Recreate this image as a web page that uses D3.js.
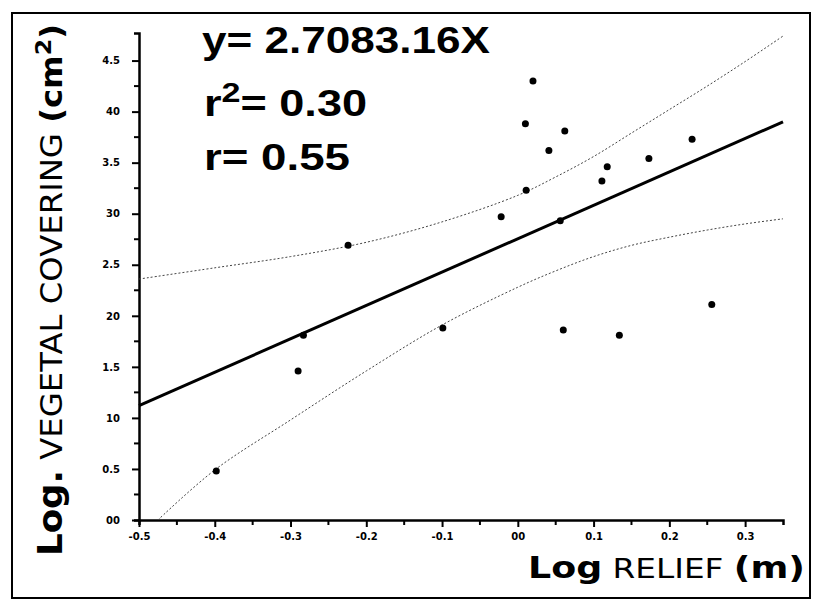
<!DOCTYPE html>
<html>
<head>
<meta charset="utf-8">
<script src="https://cdn.jsdelivr.net/npm/d3@7"></script>
<style>
  body { margin: 0; background: #fff; }
  svg { display: block; }
</style>
</head>
<body>
<div id="chart"></div>
<script>
// points: log relief vs log vegetal covering
const reliefX = [-0.398, -0.290, -0.283, -0.224, -0.099, -0.022, 0.010, 0.011, 0.020, 0.041,
  0.056, 0.060, 0.062, 0.111, 0.118, 0.134, 0.173, 0.230, 0.256];
const coverY = [0.48, 1.46, 1.81, 2.69, 1.88, 2.97, 3.88, 3.23, 4.30, 3.62,
  2.93, 1.86, 3.81, 3.32, 3.46, 1.81, 3.54, 3.73, 2.11];

// regression line end points
const fitX = [-0.5, 0.35];
const fitY = [1.12, 3.90];

// confidence bands (dotted)
const upperX = [-0.5, -0.4, -0.3, -0.2, -0.1, 0, 0.05, 0.1, 0.15, 0.2, 0.25, 0.3, 0.35];
const upperY = [2.36, 2.47, 2.58, 2.72, 2.92, 3.18, 3.36, 3.56, 3.79, 4.02, 4.25, 4.49, 4.74];
const lowerX = [-0.475, -0.4, -0.3, -0.2, -0.1, 0, 0.05, 0.1, 0.15, 0.2, 0.25, 0.3, 0.35];
const lowerY = [0.0, 0.49, 0.98, 1.46, 1.91, 2.28, 2.44, 2.58, 2.69, 2.77, 2.84, 2.90, 2.95];

// tick values and their labels as printed
const xTicks = [-0.5, -0.4, -0.3, -0.2, -0.1, 0, 0.1, 0.2, 0.3];
const xTickLabels = ["-0.5", "-0.4", "-0.3", "-0.2", "-0.1", "00", "0.1", "0.2", "0.3"];
const xMinor = [-0.45, -0.35, -0.25, -0.15, -0.05, 0.05, 0.15, 0.25];
const yTicks = [0, 0.5, 1, 1.5, 2, 2.5, 3, 3.5, 4, 4.5];
const yTickLabels = ["00", "0.5", "10", "1.5", "20", "2.5", "30", "3.5", "40", "4.5"];
const yMinor = [0.25, 0.75, 1.25, 1.75, 2.25, 2.75, 3.25, 3.75, 4.25];

const width = 815, height = 600;

const svg = d3.select("#chart").append("svg")
  .attr("width", width)
  .attr("height", height);

// frame
svg.append("rect")
  .attr("x", 12).attr("y", 13)
  .attr("width", 798).attr("height", 585)
  .attr("fill", "none")
  .attr("stroke", "#000")
  .attr("stroke-width", 2);

const x = d3.scaleLinear().domain([-0.5, 0.35]).range([139, 783]);
const y = d3.scaleLinear().domain([0, 4.77]).range([520, 33]);

// axes
const xAxis = d3.axisBottom(x)
  .tickValues(xTicks)
  .tickFormat((d, i) => xTickLabels[i])
  .tickSizeInner(7)
  .tickSizeOuter(5)
  .tickPadding(6);

const yAxis = d3.axisLeft(y)
  .tickValues(yTicks)
  .tickFormat((d, i) => yTickLabels[i])
  .tickSizeInner(7)
  .tickSizeOuter(5)
  .tickPadding(12);

const gx = svg.append("g")
  .attr("transform", "translate(0," + y(0) + ")")
  .call(xAxis);
const gy = svg.append("g")
  .attr("transform", "translate(" + x(-0.5) + ",0)")
  .call(yAxis);

[gx, gy].forEach(function (g) {
  g.select(".domain").attr("stroke-width", 2.5);
  g.selectAll(".tick line").attr("stroke-width", 2);
  g.selectAll(".tick text")
    .style("font-family", "DejaVu Sans")
    .style("font-weight", "bold")
    .style("font-size", "10px");
});

// minor ticks
gx.selectAll(".minor")
  .data(xMinor)
  .enter().append("line")
  .attr("class", "minor")
  .attr("x1", d => x(d)).attr("x2", d => x(d))
  .attr("y1", 0).attr("y2", 5)
  .attr("stroke", "#000")
  .attr("stroke-width", 2);
gy.selectAll(".minor")
  .data(yMinor)
  .enter().append("line")
  .attr("class", "minor")
  .attr("x1", 0).attr("x2", -5)
  .attr("y1", d => y(d)).attr("y2", d => y(d))
  .attr("stroke", "#000")
  .attr("stroke-width", 2);

// confidence bands
const band = d3.line()
  .x(d => x(d[0]))
  .y(d => y(d[1]))
  .curve(d3.curveCatmullRom);

svg.append("path")
  .datum(d3.zip(upperX, upperY))
  .attr("d", band)
  .attr("fill", "none")
  .attr("stroke", "#444")
  .attr("stroke-width", 1)
  .attr("stroke-dasharray", "2,2");

svg.append("path")
  .datum(d3.zip(lowerX, lowerY))
  .attr("d", band)
  .attr("fill", "none")
  .attr("stroke", "#444")
  .attr("stroke-width", 1)
  .attr("stroke-dasharray", "2,2");

// regression line
svg.append("path")
  .datum(d3.zip(fitX, fitY))
  .attr("d", d3.line().x(d => x(d[0])).y(d => y(d[1])))
  .attr("fill", "none")
  .attr("stroke", "#000")
  .attr("stroke-width", 3);

// points
svg.append("g")
  .selectAll("circle")
  .data(d3.zip(reliefX, coverY))
  .enter().append("circle")
  .attr("cx", d => x(d[0]))
  .attr("cy", d => y(d[1]))
  .attr("r", 3.5)
  .attr("fill", "#000");

// equation block
const eq = svg.append("g")
  .style("font-family", "Liberation Sans, Arial, sans-serif")
  .style("font-weight", "bold")
  .style("font-size", "37px");

eq.append("text")
  .attr("x", 202).attr("y", 53)
  .attr("textLength", 288)
  .attr("lengthAdjust", "spacingAndGlyphs")
  .text("y= 2.7083.16X");

const r2 = eq.append("text")
  .attr("x", 204).attr("y", 116)
  .attr("textLength", 163)
  .attr("lengthAdjust", "spacingAndGlyphs");
r2.append("tspan").text("r");
r2.append("tspan").attr("dy", -14).style("font-size", "28px").text("2");
r2.append("tspan").attr("dy", 14).text("= 0.30");

eq.append("text")
  .attr("x", 204).attr("y", 170)
  .attr("textLength", 146)
  .attr("lengthAdjust", "spacingAndGlyphs")
  .text("r= 0.55");

// y axis title
const yt = svg.append("text")
  .attr("transform", "translate(62,290) rotate(-90)")
  .attr("text-anchor", "middle")
  .attr("textLength", 532)
  .attr("lengthAdjust", "spacingAndGlyphs")
  .style("font-family", "DejaVu Sans")
  .style("font-size", "30px");
yt.append("tspan").style("font-weight", "bold").style("font-size", "33px").text("Log.");
yt.append("tspan").text(" VEGETAL COVERING ");
yt.append("tspan").style("font-weight", "bold").text("(cm");
yt.append("tspan").style("font-weight", "bold").attr("dy", -11).style("font-size", "22px").text("2");
yt.append("tspan").style("font-weight", "bold").attr("dy", 11).text(")");

// x axis title
const xt = svg.append("text")
  .attr("x", 528).attr("y", 578)
  .attr("textLength", 277)
  .attr("lengthAdjust", "spacingAndGlyphs")
  .style("font-family", "DejaVu Sans")
  .style("font-size", "27px");
xt.append("tspan").style("font-weight", "bold").style("font-size", "30px").text("Log");
xt.append("tspan").text(" RELIEF ");
xt.append("tspan").style("font-weight", "bold").style("font-size", "30px").text("(m)");
</script>
</body>
</html>
